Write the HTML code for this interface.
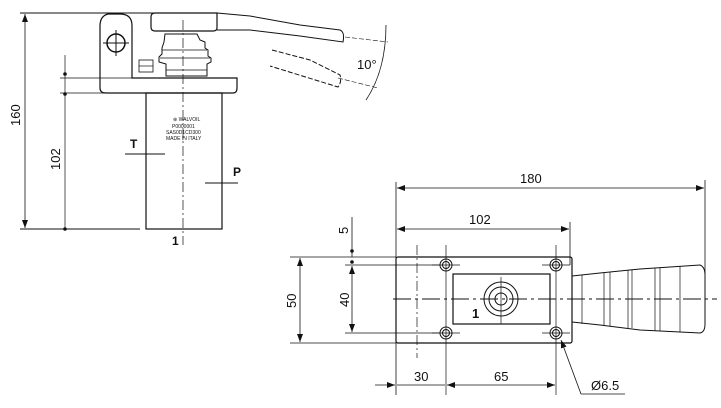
<!DOCTYPE html>
<html><head><meta charset="utf-8"><style>
html,body{margin:0;padding:0;background:#fff;width:721px;height:408px;overflow:hidden}
svg{display:block}
text{font-family:"Liberation Sans",sans-serif;fill:#111}
</style></head><body>
<svg width="721" height="408" viewBox="0 0 721 408" xmlns="http://www.w3.org/2000/svg" stroke="#111" fill="none" stroke-width="1">
<defs>
<marker id="a" markerWidth="8" markerHeight="6" refX="8" refY="3" orient="auto-start-reverse" markerUnits="userSpaceOnUse"><path d="M0,0 L8,3 L0,6 z" fill="#111" stroke="none"/></marker>
</defs>
<!-- LEFT VIEW -->
<line x1="20" y1="13" x2="218" y2="13"/>
<line x1="20" y1="229" x2="140" y2="229"/>
<line x1="25" y1="14" x2="25" y2="228" stroke-width="0.8" marker-start="url(#a)" marker-end="url(#a)"/>
<text x="0" y="0" font-size="13" transform="translate(20,126) rotate(-90)" stroke="none">160</text>
<line x1="60" y1="78" x2="145" y2="78" stroke-width="0.7"/>
<line x1="60" y1="93" x2="145" y2="93" stroke-width="0.7"/>
<line x1="65" y1="55" x2="65" y2="229" stroke-width="0.7"/>
<circle cx="65" cy="74" r="1.3" fill="#111"/><circle cx="65" cy="94" r="1.3" fill="#111"/><circle cx="65" cy="229" r="1.3" fill="#111"/>
<text x="0" y="0" font-size="13" transform="translate(60,170) rotate(-90)" stroke="none">102</text>
<!-- bracket + plate -->
<path d="M108,14 Q100,16 100,26 L100,88 Q100,93 106,93 L233,93 Q237,93 237,88 L237,78 L132,78 L132,26 Q132,14 120,14 Z" stroke-width="1.2"/>
<circle cx="116" cy="43" r="9" stroke-width="1.5"/>
<line x1="103" y1="43" x2="129" y2="43"/><line x1="116" y1="30" x2="116" y2="56"/>
<!-- body -->
<rect x="146" y="93" width="76" height="136" stroke-width="1.2"/>
<!-- handle top -->
<path d="M155,13 L217,13 L217,28 Q217,31 213,31 L155,31 Q151,31 151,27 L151,17 Q151,13 155,13 Z" stroke-width="1.2"/>
<path d="M217,13 L250,16 L300,25 L340,30 Q345,32 343,42 L300,36 L250,30 L217,30" stroke-width="1"/>
<path d="M272,50 L310,60 L340,75 Q342,82 338,87 L270,66" stroke-width="1" stroke-dasharray="5,2"/>
<!-- boot -->
<path d="M165,34 L197,34 L200,40 L205,42 L205,48 L208,50 L208,56 L211,58 L211,62 L207,64 L207,76 L166,76 L166,64 L159,62 L159,57 L162,54 L162,48 L164,42 Z" stroke-width="1"/>
<line x1="166" y1="70" x2="207" y2="70" stroke-width="0.7"/>
<line x1="160" y1="58" x2="210" y2="58" stroke-width="0.7"/>
<line x1="162" y1="50" x2="207" y2="50" stroke-width="0.7"/>
<rect x="139" y="60" width="14" height="12" stroke-width="0.8"/>
<line x1="139" y1="66" x2="153" y2="66" stroke-width="0.7"/>
<!-- centerline -->
<line x1="183" y1="20" x2="183" y2="245" stroke-width="0.7" stroke-dasharray="10,3,2,3"/>
<!-- arc & 10° -->
<path d="M386,25 Q386,70 366,100" stroke-width="0.8"/>
<line x1="345" y1="37" x2="388" y2="42" stroke-width="0.6" stroke-dasharray="5,2"/>
<line x1="338" y1="78" x2="378" y2="88" stroke-width="0.6" stroke-dasharray="5,2"/>
<text x="357" y="69" font-size="13" stroke="none">10°</text>
<!-- body text -->
<g stroke="none" font-size="5"><text x="173" y="121">⊛ WALVOIL</text><text x="172" y="128">P0000001</text><text x="166" y="134">SAS0D1CD300</text><text x="166" y="140">MADE IN ITALY</text></g>
<text x="130" y="148" font-size="12" font-weight="bold" stroke="none">T</text>
<line x1="125" y1="154" x2="165" y2="154"/>
<text x="233" y="176" font-size="12" font-weight="bold" stroke="none">P</text>
<line x1="205" y1="183" x2="238" y2="183"/>
<text x="172" y="245" font-size="12" font-weight="bold" stroke="none">1</text>

<!-- RIGHT VIEW -->
<line x1="396" y1="182" x2="396" y2="395" stroke-width="0.8"/>
<line x1="705" y1="180" x2="705" y2="280" stroke-width="0.8"/>
<line x1="397" y1="188" x2="704" y2="188" stroke-width="0.8" marker-start="url(#a)" marker-end="url(#a)"/>
<text x="520" y="183" font-size="13" stroke="none">180</text>
<line x1="570" y1="222" x2="570" y2="265" stroke-width="0.8"/>
<line x1="397" y1="229" x2="569" y2="229" stroke-width="0.8" marker-start="url(#a)" marker-end="url(#a)"/>
<text x="469" y="224" font-size="13" stroke="none">102</text>
<rect x="396" y="257" width="176" height="86" rx="2" stroke-width="1.2"/>
<rect x="453" y="274" width="97" height="50" stroke-width="1.2"/>
<g stroke-width="1">
<circle cx="446" cy="265" r="6"/><circle cx="446" cy="265" r="3.5"/>
<circle cx="556" cy="265" r="6"/><circle cx="556" cy="265" r="3.5"/>
<circle cx="446" cy="333" r="6"/><circle cx="446" cy="333" r="3.5"/>
<circle cx="556" cy="333" r="6"/><circle cx="556" cy="333" r="3.5"/>
<circle cx="501" cy="299" r="17"/><circle cx="501" cy="299" r="12"/><circle cx="501" cy="299" r="6"/>
</g>
<line x1="501" y1="277" x2="501" y2="324" stroke-width="0.7"/>
<line x1="446" y1="245" x2="446" y2="395" stroke-width="0.7"/>
<line x1="556" y1="245" x2="556" y2="395" stroke-width="0.7"/>
<line x1="432" y1="265" x2="460" y2="265" stroke-width="0.7"/><line x1="542" y1="265" x2="570" y2="265" stroke-width="0.7"/>
<line x1="432" y1="333" x2="460" y2="333" stroke-width="0.7"/><line x1="542" y1="333" x2="570" y2="333" stroke-width="0.7"/>
<line x1="393" y1="299" x2="717" y2="299" stroke-width="1" stroke-dasharray="18,4,3,4"/>
<line x1="417" y1="245" x2="417" y2="358" stroke-width="0.7" stroke-dasharray="10,3,2,3"/>
<text x="472" y="318" font-size="13" font-weight="bold" stroke="none">1</text>
<!-- handle -->
<path d="M572,276 L600,273 L640,269 L700,265 Q705,267 705,275 L705,324 Q705,332 700,333 L640,330 L600,325 L572,322" stroke-width="1"/>
<g stroke-width="0.7"><line x1="582" y1="275" x2="582" y2="324"/><line x1="604" y1="273" x2="604" y2="326"/><line x1="610" y1="272" x2="610" y2="326"/><line x1="628" y1="270" x2="628" y2="328"/><line x1="632" y1="270" x2="632" y2="328"/><line x1="655" y1="268" x2="655" y2="331"/><line x1="660" y1="268" x2="660" y2="331"/><line x1="680" y1="266" x2="680" y2="332"/></g>
<!-- 50/40/5 -->
<line x1="290" y1="257" x2="396" y2="257" stroke-width="0.7"/>
<line x1="290" y1="343" x2="396" y2="343" stroke-width="0.7"/>
<line x1="345" y1="265" x2="440" y2="265" stroke-width="0.7"/>
<line x1="345" y1="333" x2="440" y2="333" stroke-width="0.7"/>
<line x1="300" y1="258" x2="300" y2="342" stroke-width="0.8" marker-start="url(#a)" marker-end="url(#a)"/>
<text x="0" y="0" font-size="13" transform="translate(296,308) rotate(-90)" stroke="none">50</text>
<line x1="352" y1="266" x2="352" y2="332" stroke-width="0.8" marker-start="url(#a)" marker-end="url(#a)"/>
<text x="0" y="0" font-size="13" transform="translate(349,307) rotate(-90)" stroke="none">40</text>
<line x1="352" y1="217" x2="352" y2="257" stroke-width="0.8"/>
<circle cx="352" cy="251" r="1.3" fill="#111"/><circle cx="352" cy="262" r="1.3" fill="#111"/>
<text x="0" y="0" font-size="13" transform="translate(348,234) rotate(-90)" stroke="none">5</text>
<!-- bottom dims -->
<line x1="375" y1="385" x2="395" y2="385" stroke-width="0.8" marker-end="url(#a)"/>
<line x1="397" y1="385" x2="445" y2="385" stroke-width="0.8"/>
<line x1="447" y1="385" x2="555" y2="385" stroke-width="0.8" marker-start="url(#a)" marker-end="url(#a)"/>
<text x="414" y="381" font-size="13" stroke="none">30</text>
<text x="494" y="381" font-size="13" stroke="none">65</text>
<line x1="561" y1="340" x2="581" y2="394" stroke-width="0.8" marker-start="url(#a)"/>
<line x1="581" y1="394" x2="625" y2="394" stroke-width="0.8"/>
<text x="591" y="390" font-size="13" stroke="none">Ø6.5</text>
</svg>
</body></html>
